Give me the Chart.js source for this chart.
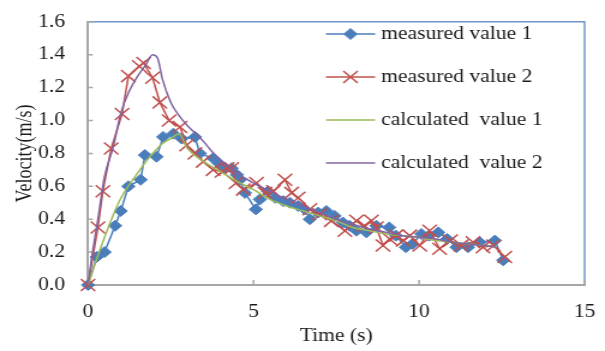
<!DOCTYPE html>
<html>
<head>
<meta charset="utf-8">
<script src="https://cdn.jsdelivr.net/npm/chart.js@4"></script>
<style>
  html, body { margin: 0; background: #fff; }
  #c { display: block; width: 605px; height: 351px; }
</style>
</head>
<body>
<canvas id="c" width="504" height="351" style="width:605px;height:351px"></canvas>
<script>
// measured value 1 (diamonds)
const m1Time = [0, 0.26, 0.5, 0.82, 0.99, 1.22, 1.59, 1.72, 2.07, 2.27, 2.58, 2.83, 3.23, 3.38, 3.78, 3.95, 4.13, 4.34, 4.5, 4.59, 4.74, 5.07, 5.19, 5.44, 5.65, 5.9, 6.1, 6.35, 6.55, 6.7, 6.95, 7.2, 7.45, 7.7, 7.9, 8.11, 8.41, 8.71, 9.1, 9.3, 9.6, 9.8, 10.07, 10.3, 10.58, 10.85, 11.13, 11.48, 11.83, 12.29, 12.54];
const m1Vel = [0, 0.17, 0.2, 0.36, 0.45, 0.6, 0.64, 0.79, 0.78, 0.9, 0.92, 0.89, 0.9, 0.8, 0.77, 0.74, 0.71, 0.71, 0.67, 0.64, 0.56, 0.46, 0.52, 0.57, 0.53, 0.51, 0.5, 0.48, 0.46, 0.4, 0.44, 0.45, 0.42, 0.38, 0.36, 0.33, 0.32, 0.36, 0.35, 0.3, 0.23, 0.25, 0.31, 0.3, 0.32, 0.28, 0.23, 0.23, 0.26, 0.27, 0.15];

// measured value 2 (crosses)
const m2Time = [0, 0.3, 0.45, 0.7, 1.03, 1.22, 1.55, 1.68, 1.95, 2.17, 2.45, 2.78, 2.98, 3.23, 3.48, 3.78, 4.05, 4.2, 4.34, 4.47, 4.69, 5.09, 5.35, 5.6, 5.95, 6.15, 6.35, 6.7, 7.0, 7.35, 7.76, 8.11, 8.35, 8.56, 8.71, 8.91, 9.11, 9.3, 9.52, 9.72, 10.02, 10.32, 10.62, 10.95, 11.27, 11.63, 11.93, 12.25, 12.59];
const m2Vel = [0, 0.35, 0.57, 0.83, 1.04, 1.27, 1.33, 1.35, 1.26, 1.11, 1.0, 0.96, 0.85, 0.8, 0.75, 0.7, 0.69, 0.71, 0.71, 0.62, 0.58, 0.62, 0.56, 0.57, 0.64, 0.56, 0.53, 0.46, 0.43, 0.39, 0.33, 0.39, 0.36, 0.39, 0.35, 0.24, 0.28, 0.3, 0.27, 0.3, 0.24, 0.33, 0.22, 0.27, 0.24, 0.26, 0.23, 0.24, 0.17];

// calculated value 1
const c1Time = [0, 0.25, 0.5, 0.75, 1.0, 1.25, 1.5, 1.75, 2.0, 2.25, 2.5, 2.75, 3.0, 3.5, 4.0, 4.5, 5.0, 5.5, 6.0, 6.5, 7.0, 7.5, 8.0, 8.5, 9.0, 9.5, 10.0, 10.5, 11.0, 11.5, 12.0, 12.3];
const c1Vel = [0, 0.15, 0.29, 0.42, 0.53, 0.61, 0.68, 0.75, 0.81, 0.86, 0.89, 0.92, 0.83, 0.75, 0.69, 0.63, 0.58, 0.52, 0.48, 0.45, 0.42, 0.39, 0.35, 0.33, 0.31, 0.3, 0.29, 0.27, 0.26, 0.25, 0.24, 0.23];

// calculated value 2
const c2Time = [0, 0.1, 0.3, 0.5, 0.75, 1.0, 1.25, 1.5, 1.75, 1.95, 2.1, 2.25, 2.5, 2.75, 3.0, 3.25, 3.5, 3.75, 4.0, 4.5, 5.0, 5.5, 6.0, 6.5, 7.0, 7.5, 8.0, 8.5, 9.0, 9.5, 10.0, 10.5, 11.0, 11.5, 12.0, 12.3];
const c2Vel = [0, 0.15, 0.4, 0.66, 0.83, 1.05, 1.18, 1.27, 1.34, 1.4, 1.38, 1.25, 1.11, 1.03, 0.97, 0.92, 0.87, 0.81, 0.76, 0.68, 0.62, 0.57, 0.52, 0.48, 0.44, 0.4, 0.37, 0.34, 0.32, 0.3, 0.29, 0.28, 0.26, 0.25, 0.24, 0.23];

const seriesNames = ['measured value 1', 'measured value 2', 'calculated  value 1', 'calculated  value 2'];

const BLUE = '#4a7ebb';
const RED = '#c0504d';
const GREEN = '#9bbb59';
const PURPLE = '#8064a2';
const AXIS = '#a6a6a6';
const FRAME = '#6f95cc';
const TEXT = '#1a1a1a';
const FONT = '"Liberation Serif", "Times New Roman", serif';

const pts = (ts, vs) => ts.map((t, i) => ({ x: t, y: vs[i] }));

Chart.defaults.font.family = FONT;
Chart.defaults.font.size = 18;
Chart.defaults.font.weight = 400;
Chart.defaults.color = TEXT;

// blue frame on top/right plus short inward tick marks
const framePlugin = {
  id: 'frame',
  beforeDraw(chart) {
    const { ctx, chartArea: a } = chart;
    ctx.save();
    ctx.strokeStyle = FRAME;
    ctx.lineWidth = 1.5;
    ctx.beginPath();
    ctx.moveTo(a.left, a.top);
    ctx.lineTo(a.right, a.top);
    ctx.lineTo(a.right, a.bottom);
    ctx.stroke();
    ctx.restore();
  },
  beforeDatasetsDraw(chart) {
    const { ctx, chartArea: a, scales } = chart;
    ctx.save();
    ctx.strokeStyle = AXIS;
    ctx.lineWidth = 1.5;
    ctx.beginPath();
    scales.x.ticks.forEach(t => {
      const px = scales.x.getPixelForValue(t.value);
      ctx.moveTo(px, a.bottom);
      ctx.lineTo(px, a.bottom - 5);
    });
    scales.y.ticks.forEach(t => {
      const py = scales.y.getPixelForValue(t.value);
      ctx.moveTo(a.left, py);
      ctx.lineTo(a.left + 4, py);
    });
    ctx.stroke();
    ctx.restore();
  }
};

// legend box in the upper right of the plot
const legendPlugin = {
  id: 'boxLegend',
  afterDraw(chart) {
    const { ctx } = chart;
    const rows = [34, 77, 120, 163];
    const x0 = 271.5, x1 = 312.5, tx = 317.5;
    ctx.save();
    chart.data.datasets.forEach((ds, i) => {
      const y = rows[i];
      ctx.strokeStyle = ds.borderColor;
      ctx.lineWidth = 1.5;
      ctx.beginPath();
      ctx.moveTo(x0, y);
      ctx.lineTo(x1, y);
      ctx.stroke();
      if (ds.pointRadius > 0) {
        ctx.fillStyle = ds.pointBackgroundColor;
        ctx.strokeStyle = ds.pointBorderColor;
        ctx.lineWidth = ds.pointBorderWidth;
        Chart.helpers.drawPoint(ctx, {
          pointStyle: ds.pointStyle,
          radius: ds.pointRadius,
          borderWidth: ds.pointBorderWidth
        }, (x0 + x1) / 2, y);
      }
      ctx.fillStyle = TEXT;
      ctx.font = '18px ' + FONT;
      ctx.textBaseline = 'middle';
      ctx.textAlign = 'left';
      ctx.fillText(seriesNames[i], tx, y);
    });
    ctx.restore();
  }
};

new Chart(document.getElementById('c'), {
  type: 'line',
  data: {
    datasets: [
      {
        label: seriesNames[0],
        data: pts(m1Time, m1Vel),
        borderColor: BLUE,
        borderWidth: 1.5,
        pointStyle: 'rectRot',
        pointRadius: 5.5,
        pointBackgroundColor: BLUE,
        pointBorderColor: BLUE,
        pointBorderWidth: 1,
        clip: false,
        order: 4
      },
      {
        label: seriesNames[1],
        data: pts(m2Time, m2Vel),
        borderColor: RED,
        borderWidth: 1.5,
        pointStyle: 'crossRot',
        pointRadius: 8.5,
        pointBackgroundColor: RED,
        pointBorderColor: RED,
        pointBorderWidth: 1.5,
        clip: false,
        order: 3
      },
      {
        label: seriesNames[2],
        data: pts(c1Time, c1Vel),
        borderColor: GREEN,
        borderWidth: 1.5,
        pointRadius: 0,
        cubicInterpolationMode: 'monotone',
        order: 2
      },
      {
        label: seriesNames[3],
        data: pts(c2Time, c2Vel),
        borderColor: PURPLE,
        borderWidth: 1.5,
        pointRadius: 0,
        cubicInterpolationMode: 'monotone',
        order: 1
      }
    ]
  },
  options: {
    responsive: false,
    animation: false,
    devicePixelRatio: 1,
    layout: { padding: { left: 0, top: 12, right: 15.7, bottom: 0 } },
    plugins: { legend: { display: false }, tooltip: { enabled: false } },
    scales: {
      x: {
        type: 'linear',
        min: 0,
        max: 15,
        ticks: { stepSize: 5, padding: 8, color: TEXT },
        grid: { display: false },
        border: { color: AXIS, width: 2 },
        title: {
          display: true, text: 'Time (s)', color: TEXT,
          font: { family: FONT, size: 18, weight: 400 },
          padding: { top: 0, bottom: 4 }
        },
        afterFit(scale) { scale.height = 66; }
      },
      y: {
        min: 0,
        max: 1.6,
        ticks: { stepSize: 0.2, padding: 11, color: TEXT, callback: v => v.toFixed(1) },
        grid: { display: false },
        border: { color: AXIS, width: 2 },
        title: {
          display: true, text: 'Velocity(m/s)', color: TEXT,
          font: { family: FONT, size: 18, weight: 400 },
          padding: { top: 10, bottom: 0 }
        },
        afterFit(scale) { scale.width = 73.3; }
      }
    }
  },
  plugins: [framePlugin, legendPlugin]
});
</script>
</body>
</html>
